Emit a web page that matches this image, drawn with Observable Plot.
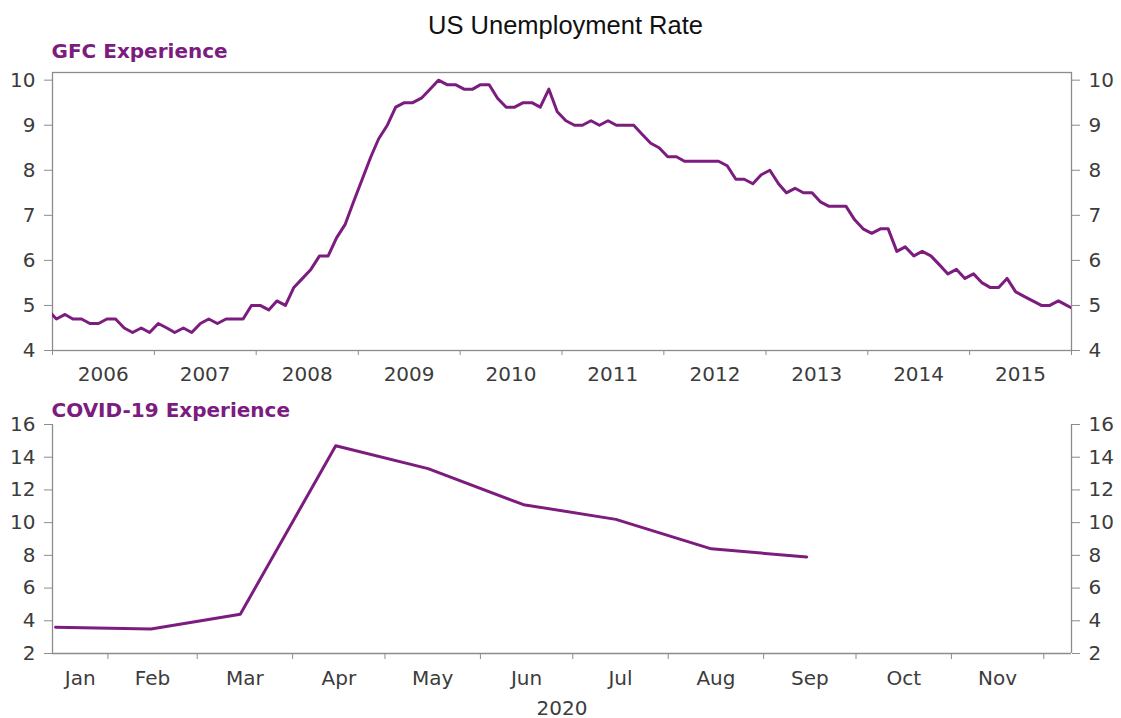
<!DOCTYPE html>
<html><head><meta charset="utf-8">
<script src="https://cdn.jsdelivr.net/npm/d3@7"></script>
<script src="https://cdn.jsdelivr.net/npm/@observablehq/plot@0.6"></script>
<style>
body{margin:0;background:#fff;width:1121px;height:718px;position:relative;overflow:hidden;font-family:"DejaVu Sans";}
#top,#bottom{position:absolute;left:0;}
#top{top:0}
#bottom{top:400px}
</style></head><body>
<div id="top"></div><div id="bottom"></div>
<script>
// ---- Text ----
const mainTitle = "US Unemployment Rate";
const gfcTitle = "GFC Experience";
const covidTitle = "COVID-19 Experience";
const yearAxisLabel = "2020";

// ---- GFC series: monthly, Dec 2005 .. Jan 2016 (edges clipped by frame) ----
const gfcFirstMonth = [2005, 11]; // Dec 2005 (UTC month index)
const gfcRates = [4.9,
  4.7,4.8,4.7,4.7,4.6,4.6,4.7,4.7,4.5,4.4,4.5,4.4,
  4.6,4.5,4.4,4.5,4.4,4.6,4.7,4.6,4.7,4.7,4.7,5.0,
  5.0,4.9,5.1,5.0,5.4,5.6,5.8,6.1,6.1,6.5,6.8,7.3,
  7.8,8.3,8.7,9.0,9.4,9.5,9.5,9.6,9.8,10.0,9.9,9.9,
  9.8,9.8,9.9,9.9,9.6,9.4,9.4,9.5,9.5,9.4,9.8,9.3,
  9.1,9.0,9.0,9.1,9.0,9.1,9.0,9.0,9.0,8.8,8.6,8.5,
  8.3,8.3,8.2,8.2,8.2,8.2,8.2,8.1,7.8,7.8,7.7,7.9,
  8.0,7.7,7.5,7.6,7.5,7.5,7.3,7.2,7.2,7.2,6.9,6.7,
  6.6,6.7,6.7,6.2,6.3,6.1,6.2,6.1,5.9,5.7,5.8,5.6,
  5.7,5.5,5.4,5.4,5.6,5.3,5.2,5.1,5.0,5.0,5.1,5.0,
  4.9];
const yearLabels = ["2006","2007","2008","2009","2010","2011","2012","2013","2014","2015"];
const gfcYTicks = [4,5,6,7,8,9,10];

// ---- COVID series: monthly 2020 ----
const covidMonths = ["Jan","Feb","Mar","Apr","May","Jun","Jul","Aug","Sep"];
const covidRates = [3.6,3.5,4.4,14.7,13.3,11.1,10.2,8.4,7.9];
const monthLabels = ["Jan","Feb","Mar","Apr","May","Jun","Jul","Aug","Sep","Oct","Nov"];
const covidYTicks = [2,4,6,8,10,12,14,16];

// ---- Styling ----
const purple = "#7b1c7e";
const axisGray = "#8c8c8c";
const labelColor = "#3c3c3c";
const font = "DejaVu Sans";

// ---- Build data tables ----
const mid = (y, m) => new Date(Date.UTC(y, m, 15));
const gfcData = gfcRates.map((v, i) => ({date: mid(gfcFirstMonth[0], gfcFirstMonth[1] + i), rate: v}));
const topDomain = [new Date(Date.UTC(2006,0,1)), new Date(Date.UTC(2016,0,1))];
const yearTicks = d3.utcYear.range(topDomain[0], d3.utcYear.offset(topDomain[1], 1));
const yearLabelData = yearLabels.map(y => ({date: new Date(Date.UTC(+y, 6, 2)), label: y}));

const covidData = covidRates.map((v, i) => ({date: mid(2020, i), rate: v, month: covidMonths[i]}));
const botDomain = [new Date(Date.UTC(2020,0,14)), new Date(Date.UTC(2020,11,10))];
const monthTicks = d3.utcMonth.range(d3.utcMonth.ceil(botDomain[0]), botDomain[1]);
const monthLabelData = monthLabels.map((m, i) => {
  const s = new Date(Math.max(Date.UTC(2020, i, 1), +botDomain[0]));
  const e = new Date(Math.min(Date.UTC(2020, i + 1, 1), +botDomain[1]));
  return {date: new Date((+s + +e) / 2), label: m};
});

const styleObj = {fontFamily: font, fontSize: "20px", background: "white", overflow: "visible"};

const topPlot = Plot.plot({
  width: 1121, height: 400,
  marginLeft: 52, marginRight: 50, marginTop: 72, marginBottom: 50,
  style: styleObj,
  x: {type: "utc", domain: topDomain, label: null},
  y: {domain: [4, 10.17], label: null},
  marks: [
    Plot.frame({stroke: axisGray, strokeWidth: 1.3}),
    Plot.axisY(gfcYTicks, {anchor: "left", tickSize: 8, tickPadding: 9, stroke: axisGray, fill: labelColor, label: null}),
    Plot.axisY(gfcYTicks, {anchor: "right", tickSize: 8, tickPadding: 9, stroke: axisGray, fill: labelColor, label: null}),
    Plot.axisX(yearTicks, {anchor: "bottom", tickSize: 5, tickFormat: () => "", stroke: axisGray, label: null}),
    Plot.text(yearLabelData, {x: "date", text: "label", frameAnchor: "bottom", dy: 16, lineAnchor: "top", fill: labelColor}),
    Plot.line(gfcData, {x: "date", y: "rate", stroke: purple, strokeWidth: 3, clip: true}),
    Plot.text([gfcTitle], {text: d => d, frameAnchor: "top-left", dx: -1, dy: -15, textAnchor: "start", lineAnchor: "bottom", fontWeight: "bold", fill: purple}),
    Plot.text([mainTitle], {text: d => d, frameAnchor: "top", dx: 3.5, dy: -39, lineAnchor: "bottom", fontFamily: "Liberation Sans", fontSize: 25.5, fill: "#111"})
  ]
});
document.getElementById("top").appendChild(topPlot);

const botPlot = Plot.plot({
  width: 1121, height: 318,
  marginLeft: 52, marginRight: 50, marginTop: 24, marginBottom: 65,
  style: styleObj,
  x: {type: "utc", domain: botDomain, label: null},
  y: {domain: [2, 16], label: null},
  marks: [
    Plot.ruleY([2], {stroke: axisGray, strokeWidth: 1.3}),
    Plot.ruleX(botDomain, {stroke: axisGray, strokeWidth: 1.3}),
    Plot.axisY(covidYTicks, {anchor: "left", tickSize: 8, tickPadding: 9, stroke: axisGray, fill: labelColor, label: null}),
    Plot.axisY(covidYTicks, {anchor: "right", tickSize: 8, tickPadding: 9, stroke: axisGray, fill: labelColor, label: null}),
    Plot.axisX(monthTicks, {anchor: "bottom", tickSize: 6, tickFormat: () => "", stroke: axisGray, label: null}),
    Plot.text(monthLabelData, {x: "date", text: "label", frameAnchor: "bottom", dy: 17, lineAnchor: "top", fill: labelColor}),
    Plot.text([yearAxisLabel], {text: d => d, frameAnchor: "bottom", dy: 47, lineAnchor: "top", fill: labelColor}),
    Plot.line(covidData, {x: "date", y: "rate", stroke: purple, strokeWidth: 3, clip: true}),
    Plot.text([covidTitle], {text: d => d, frameAnchor: "top-left", dx: -1, dy: -8, textAnchor: "start", lineAnchor: "bottom", fontWeight: "bold", fill: purple})
  ]
});
document.getElementById("bottom").appendChild(botPlot);
</script>
</body></html>
